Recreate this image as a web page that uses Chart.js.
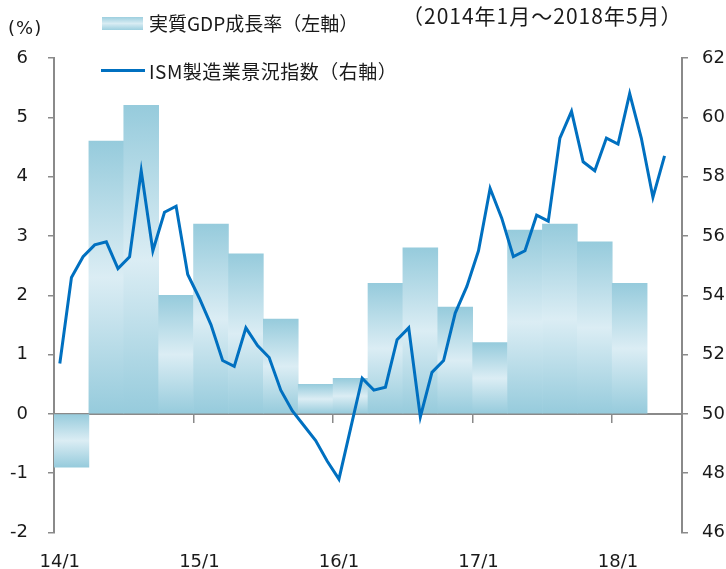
<!DOCTYPE html>
<html lang="ja">
<head>
<meta charset="utf-8">
<script src="https://cdn.jsdelivr.net/npm/chart.js@4.4.1/dist/chart.umd.min.js"></script>
<style>
  body { margin: 0; background: #fff; }
  #wrap { position: relative; width: 726px; height: 569px; }
  .txt { position: absolute; color: #1a1a1a; white-space: nowrap; line-height: 1; }
  .jp { font-family: "Noto Sans CJK JP", sans-serif; font-size: 19px; letter-spacing: 0.5px; }
  .swatch-bar { position: absolute; left: 102px; top: 17px; width: 41px; height: 13px;
    background: linear-gradient(#9dcfdf, #d8ecf3, #9dcfdf); }
  .swatch-line { position: absolute; left: 101px; top: 69px; width: 44px; height: 3px; background: #0070c0; }
</style>
</head>
<body>
<div id="wrap">
  <canvas id="chart" width="726" height="569"></canvas>
  <div class="txt" style="left:8px; top:19px; font-family:'DejaVu Sans'; font-size:18px; letter-spacing:1px;">(%)</div>
  <div class="swatch-bar"></div>
  <div class="txt jp" style="left:149px; top:13px; letter-spacing:0;">実質GDP成長率（左軸）</div>
  <div class="swatch-line"></div>
  <div class="txt jp" style="left:149px; top:61px;">ISM製造業景況指数（右軸）</div>
  <div class="txt jp" style="left:402px; top:5px; font-size:21px; letter-spacing:1px;">（2014年1月～2018年5月）</div>
</div>
<script>
// monthly categories (x axis runs Jan 2014 - Jun 2018)
const months = [
  '14/1','14/2','14/3','14/4','14/5','14/6','14/7','14/8','14/9','14/10','14/11','14/12',
  '15/1','15/2','15/3','15/4','15/5','15/6','15/7','15/8','15/9','15/10','15/11','15/12',
  '16/1','16/2','16/3','16/4','16/5','16/6','16/7','16/8','16/9','16/10','16/11','16/12',
  '17/1','17/2','17/3','17/4','17/5','17/6','17/7','17/8','17/9','17/10','17/11','17/12',
  '18/1','18/2','18/3','18/4','18/5','18/6'
];
const quarters = [
  '14Q1','14Q2','14Q3','14Q4','15Q1','15Q2','15Q3','15Q4','16Q1','16Q2','16Q3','16Q4',
  '17Q1','17Q2','17Q3','17Q4','18Q1','18Q2'
];
const tickLabels = ['14/1', '15/1', '16/1', '17/1', '18/1'];

// real GDP growth, % (left axis), quarterly
const gdp = [-0.9, 4.6, 5.2, 2.0, 3.2, 2.7, 1.6, 0.5, 0.6, 2.2, 2.8, 1.8, 1.2, 3.1, 3.2, 2.9, 2.2, null];

// ISM manufacturing index (right axis), monthly
const ism = [
  51.7, 54.6, 55.3, 55.7, 55.8, 54.9, 55.3, 58.2, 55.5, 56.8, 57.0, 54.7,
  53.9, 53.0, 51.8, 51.6, 52.9, 52.3, 51.9, 50.8, 50.1, 49.6, 49.1, 48.4,
  47.8, 49.5, 51.2, 50.8, 50.9, 52.5, 52.9, 49.9, 51.4, 51.8, 53.4, 54.3,
  55.5, 57.6, 56.6, 55.3, 55.5, 56.7, 56.5, 59.3, 60.2, 58.5, 58.2, 59.3,
  59.1, 60.8, 59.3, 57.3, 58.7
];

const axisGray = '#8a8a8a';
const tickFont = { family: 'DejaVu Sans', size: 18 };

function barGradient(context) {
  const chart = context.chart;
  const v = context.raw;
  if (!chart.chartArea || v == null) return '#9dcfdf';
  const yScale = chart.scales.y;
  const top = yScale.getPixelForValue(v);
  const base = yScale.getPixelForValue(0);
  const g = chart.ctx.createLinearGradient(0, top, 0, base);
  g.addColorStop(0, '#96cbdc');
  g.addColorStop(0.5, '#dbedf4');
  g.addColorStop(1, '#96cbdc');
  return g;
}

new Chart(document.getElementById('chart'), {
  data: {
    labels: months,
    datasets: [
      {
        type: 'line',
        label: 'ISM製造業景況指数（右軸）',
        data: ism,
        xAxisID: 'x',
        yAxisID: 'y2',
        borderColor: '#0070c0',
        borderWidth: 3,
        pointRadius: 0,
        tension: 0,
        order: 1
      },
      {
        type: 'bar',
        label: '実質GDP成長率（左軸）',
        data: gdp,
        xAxisID: 'xq',
        yAxisID: 'y',
        grouped: false,
        backgroundColor: barGradient,
        borderWidth: 0,
        barPercentage: 1,
        categoryPercentage: 1,
        order: 2
      }
    ]
  },
  options: {
    responsive: false,
    animation: false,
    layout: { padding: { top: 58, left: 0, right: 0, bottom: 0 } },
    plugins: { legend: { display: false }, tooltip: { enabled: false } },
    scales: {
      x: {
        type: 'category',
        position: { y: 0 },
        offset: true,
        z: 1,
        border: { display: true, color: axisGray, width: 2 },
        grid: {
          offset: true,
          drawOnChartArea: false,
          drawTicks: true,
          tickLength: 8,
          lineWidth: 1.5,
          color: ctx => (ctx.index > 0 && ctx.index % 12 === 0) ? axisGray : 'transparent'
        },
        ticks: { display: false, autoSkip: false }
      },
      xl: {
        type: 'category',
        position: 'bottom',
        offset: true,
        grid: { display: false },
        border: { display: false },
        ticks: {
          autoSkip: false,
          maxRotation: 0,
          padding: 11,
          color: '#1a1a1a',
          font: tickFont,
          callback: function (val) {
            const lab = this.getLabelForValue(val);
            return tickLabels.includes(lab) ? lab : '';
          }
        },
        afterFit: s => { s.height = 36.5; }
      },
      xq: {
        type: 'category',
        labels: quarters,
        offset: true,
        display: false
      },
      y: {
        position: 'left',
        min: -2,
        max: 6,
        ticks: { stepSize: 1, padding: 20, color: '#1a1a1a', font: tickFont },
        grid: { drawOnChartArea: false, drawTicks: true, tickLength: 6, color: axisGray, lineWidth: 1.5 },
        border: { display: true, color: axisGray, width: 2 },
        afterFit: s => { s.width = 54; }
      },
      y2: {
        position: 'right',
        min: 46,
        max: 62,
        ticks: { stepSize: 2, padding: 14, color: '#1a1a1a', font: tickFont },
        grid: { drawOnChartArea: false, drawTicks: true, tickLength: 6, color: axisGray, lineWidth: 1.5 },
        border: { display: true, color: axisGray, width: 2 },
        afterFit: s => { s.width = 44; }
      }
    }
  }
});
</script>
</body>
</html>
